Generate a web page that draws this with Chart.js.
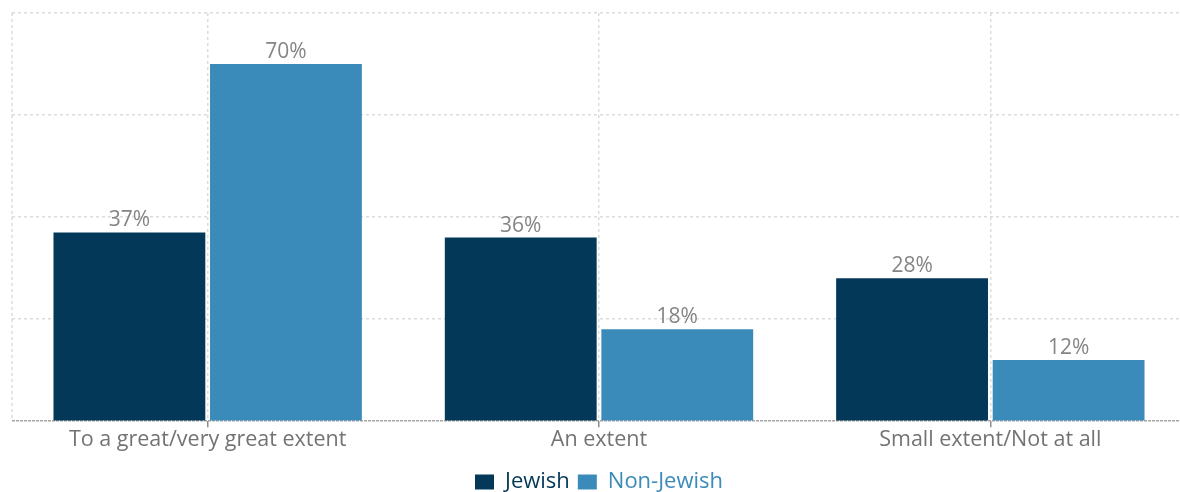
<!DOCTYPE html>
<html>
<head>
<meta charset="utf-8">
<script src="https://cdn.jsdelivr.net/npm/chart.js@4/dist/chart.umd.min.js"></script>
<style>
  html, body { margin: 0; padding: 0; background: #fff; overflow: hidden; }
  body { width: 1180px; height: 492px; }
  #wrap { position: relative; width: 1186px; height: 503px; }
</style>
</head>
<body>
<div id="wrap"><canvas id="chart"></canvas></div>
<script>
// values
const categories = ["To a great/very great extent", "An extent", "Small extent/Not at all"];
const jewish = [37, 36, 28];
const nonJewish = [70, 18, 12];
const seriesNames = ["Jewish", "Non-Jewish"];
const seriesColors = ["#033859", "#3b8bba"];

const FONT = "'Open Sans', 'Noto Sans', sans-serif";
const GRID = "#dcdcdc";
const BASE = "#a6a6a6";

// draws "NN%" above every bar, from the bar elements
const valueLabels = {
  id: "valueLabels",
  afterDatasetsDraw(chart) {
    const ctx = chart.ctx;
    ctx.save();
    ctx.font = "21px " + FONT;
    ctx.fillStyle = "#858585";
    ctx.textAlign = "center";
    ctx.textBaseline = "alphabetic";
    chart.data.datasets.forEach((ds, i) => {
      chart.getDatasetMeta(i).data.forEach((bar, j) => {
        ctx.fillText(ds.data[j] + "%", bar.x, bar.y - 6);
      });
    });
    ctx.restore();
  }
};

// dotted left edge of the plot area
const leftEdge = {
  id: "leftEdge",
  beforeDatasetsDraw(chart) {
    const { ctx, chartArea: a } = chart;
    ctx.save();
    ctx.strokeStyle = GRID;
    ctx.lineWidth = 1.5;
    ctx.setLineDash([3, 3]);
    ctx.beginPath();
    ctx.moveTo(a.left, a.top);
    ctx.lineTo(a.left, a.bottom);
    ctx.stroke();
    ctx.restore();
  }
};

new Chart(document.getElementById("chart"), {
  type: "bar",
  data: {
    labels: categories,
    datasets: [
      { label: seriesNames[0], data: jewish, backgroundColor: seriesColors[0] },
      { label: seriesNames[1], data: nonJewish, backgroundColor: seriesColors[1] },
    ],
  },
  options: {
    responsive: true,
    maintainAspectRatio: false,
    animation: false,
    categoryPercentage: 0.8,
    barPercentage: 0.97,
    layout: { padding: { left: 12, top: 13, right: 0, bottom: 0 } },
    plugins: {
      tooltip: { enabled: false },
      legend: {
        position: "bottom",
        labels: {
          boxWidth: 19,
          boxHeight: 15,
          padding: 8,
          font: { family: FONT, size: 22 },
          generateLabels(chart) {
            return chart.data.datasets.map((ds, i) => ({
              text: ds.label,
              fillStyle: ds.backgroundColor,
              strokeStyle: ds.backgroundColor,
              lineWidth: 0,
              fontColor: seriesColors[i],
              datasetIndex: i,
            }));
          },
        },
      },
    },
    scales: {
      x: {
        afterFit(scale) { scale.height += 10; },
        grid: {
          offset: false,
          color: GRID,
          lineWidth: 1.5,
          tickColor: "#8c8c8c",
          tickLength: 6,
          tickWidth: 1.5,
          tickBorderDash: [],
        },
        border: { display: false, dash: [3, 3] },
        ticks: { color: "#737373", font: { family: FONT, size: 21.5 }, padding: 0 },
      },
      y: {
        min: 0,
        max: 80,
        ticks: { display: false, stepSize: 20 },
        grid: {
          drawTicks: false,
          color: (c) => (c.tick && c.tick.value === 0 ? BASE : GRID),
          lineWidth: 1.5,
        },
        border: {
          display: false,
          dash: (c) => (c.tick && c.tick.value === 0 ? [3, 1] : [3, 3]),
        },
      },
    },
  },
  plugins: [leftEdge, valueLabels],
});
</script>
</body>
</html>
